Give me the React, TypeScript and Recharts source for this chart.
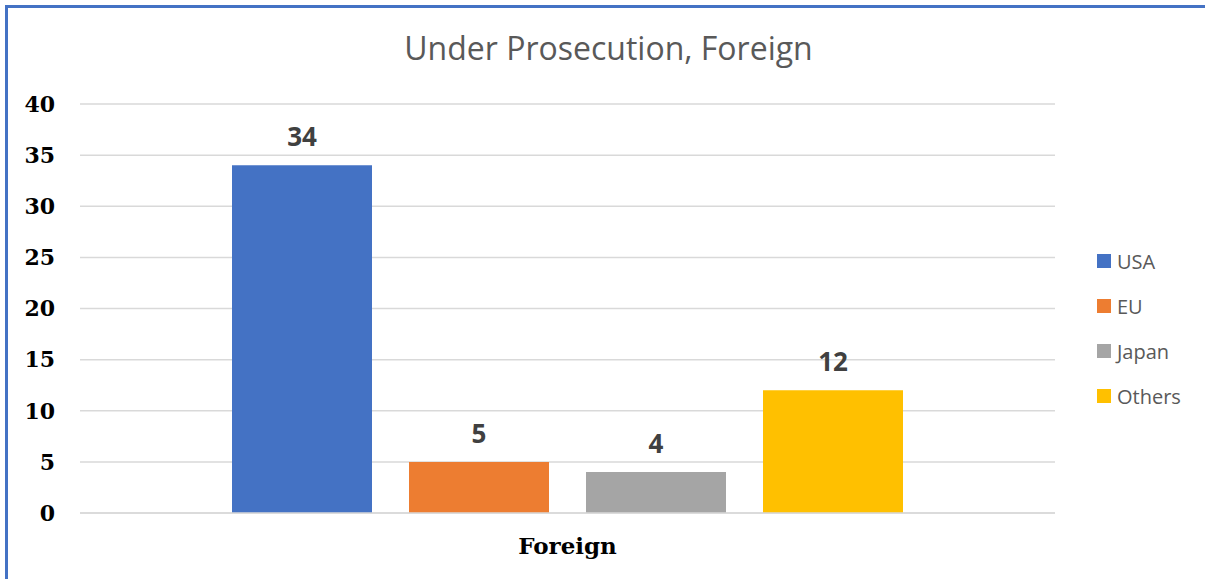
import React from 'react';
import { BarChart, Bar, XAxis, YAxis, CartesianGrid, LabelList } from 'recharts';

const categories = ['Foreign'];
const seriesNames = ['USA', 'EU', 'Japan', 'Others'];
const seriesValues = [34, 5, 4, 12];
const seriesColors = ['#4472C4', '#ED7D31', '#A5A5A5', '#FFC000'];
const yTicks = [0, 5, 10, 15, 20, 25, 30, 35, 40];

const data = categories.map((name) => {
  const row: Record<string, number | string> = { name };
  seriesNames.forEach((s, i) => {
    row[s] = seriesValues[i];
  });
  return row;
});

const serif = '"DejaVu Serif", serif';
const sans = '"Open Sans", "Liberation Sans", sans-serif';

export default function App() {
  return (
    <div style={{ position: 'relative', width: 1205, height: 579, overflow: 'hidden' }}>
      <style>{`body{margin:0;overflow:hidden;}`}</style>
      <div
        style={{
          position: 'absolute',
          left: 5,
          top: 5,
          width: 1400,
          height: 800,
          borderLeft: '3px solid #4472C4',
          borderTop: '3px solid #4472C4',
        }}
      />
      <div
        style={{
          position: 'absolute',
          left: 0,
          width: 1217,
          top: 26,
          textAlign: 'center',
          fontFamily: sans,
          fontSize: 32,
          color: '#595959',
          lineHeight: '44px',
        }}
      >
        Under Prosecution, Foreign
      </div>
      <div style={{ position: 'absolute', left: 0, top: 0 }}>
        <BarChart
          width={1205}
          height={579}
          data={data}
          margin={{ top: 104, right: 150, bottom: 26, left: 0 }}
          barGap={37}
          barSize={140}
        >
          <CartesianGrid vertical={false} stroke="#d9d9d9" strokeWidth={1.5} />
          <XAxis
            dataKey="name"
            height={40}
            axisLine={{ stroke: '#d9d9d9', strokeWidth: 1.5 }}
            tickLine={false}
            tickSize={0}
            tickMargin={25}
            tick={{ fontFamily: serif, fontWeight: 'bold', fontSize: 23, fill: '#000' }}
          />
          <YAxis
            width={80}
            domain={[0, 40]}
            ticks={yTicks}
            interval={0}
            axisLine={false}
            tickLine={false}
            tickSize={0}
            tickMargin={25}
            tick={{ fontFamily: serif, fontWeight: 'bold', fontSize: 22, fill: '#000' }}
          />
          {seriesNames.map((s, i) => (
            <Bar key={s} dataKey={s} fill={seriesColors[i]} isAnimationActive={false}>
              <LabelList
                dataKey={s}
                position="top"
                offset={19}
                style={{ fontFamily: sans, fontWeight: 'bold', fontSize: 26, fill: '#404040' }}
              />
            </Bar>
          ))}
        </BarChart>
      </div>
      <div style={{ position: 'absolute', left: 1097, top: 248 }}>
        {seriesNames.map((s, i) => (
          <div
            key={s}
            style={{ display: 'flex', alignItems: 'center', height: 26, marginBottom: 19 }}
          >
            <div style={{ width: 14, height: 14, background: seriesColors[i], marginRight: 6 }} />
            <span style={{ fontFamily: sans, fontSize: 20, color: '#595959' }}>{s}</span>
          </div>
        ))}
      </div>
    </div>
  );
}
